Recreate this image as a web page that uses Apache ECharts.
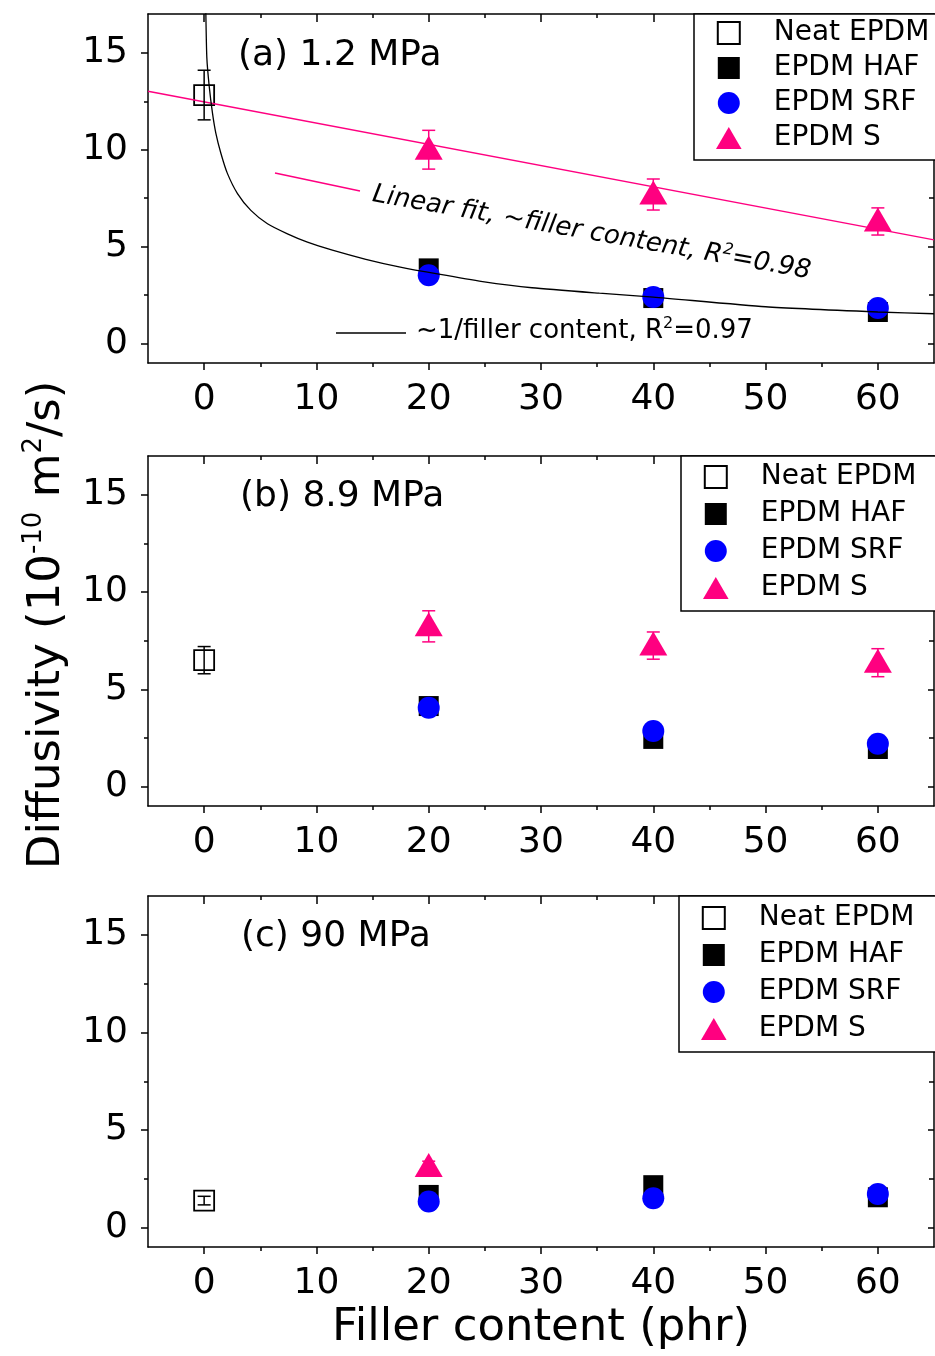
<!DOCTYPE html>
<html>
<head>
<meta charset="utf-8">
<title>Diffusivity vs filler content</title>
<script src="https://cdn.jsdelivr.net/npm/echarts@6.0.0/dist/echarts.min.js"></script>
<style>
  html, body { margin: 0; padding: 0; background: #fff; }
  #main { width: 935px; height: 1356px; }
</style>
</head>
<body>
<div id="main"></div>
<script>
// values, unit 10^-10 m2/s
const panelTitles = ['(a) 1.2 MPa', '(b) 8.9 MPa', '(c) 90 MPa']
const legendNames = ['Neat EPDM', 'EPDM HAF', 'EPDM SRF', 'EPDM S']
const fillerX = [20, 40, 60]
const neatX = [0]
const neatY = [12.82, 6.5, 1.38]
const neatErr = [1.28, 0.7, 0.22]
const hafY = [[3.88, 2.35, 1.63], [4.14, 2.45, 1.93], [1.67, 2.17, 1.55]]
const srfY = [[3.53, 2.4, 1.84], [4.05, 2.86, 2.2], [1.33, 1.5, 1.72]]
const sX = [[20, 40, 60], [20, 40, 60], [20]]
const sY = [[10.0, 7.69, 6.3], [8.24, 7.25, 6.37], [3.1]]
const sErr = [[1.0, 0.8, 0.7], [0.8, 0.7, 0.72], [0.3]]

// fits drawn in panel (a)
const linFitX = [-5, 65]
const linFitY = [13.02, 5.35]
const invFitX = [0.15, 0.24, 0.45, 0.74, 1.04, 1.49, 2.07, 2.97, 4.16, 5.64, 7.42, 9.2, 11.42, 14.4, 17.36, 20.9, 24.8, 29.2, 35.2, 40.0, 50.0, 60.0, 65.0]
const invFitY = [17.1, 14.75, 13.28, 11.9, 10.86, 9.82, 8.78, 7.74, 6.87, 6.18, 5.66, 5.23, 4.82, 4.35, 3.96, 3.58, 3.2, 2.88, 2.6, 2.4, 1.9, 1.63, 1.54]

const xTicks = [0, 10, 20, 30, 40, 50, 60]
const xMinor = [5, 15, 25, 35, 45, 55]
const yTicks = [0, 5, 10, 15]
const yMinor = [2.5, 7.5, 12.5]

const FONT = 'DejaVu Sans'
const PINK = '#ff0080'
const BLUE = '#0000ff'
const gridTops = [14, 456, 896]
const gridHeights = [349, 350, 351]
const legendLeft = [694, 681, 679]
const legendGap = [7, 9, 9]
const legendPad = [[5, 8], [7, 9], [8, 9]]
const legendIcons = ['path://M0,0H10V10H0Z', 'path://M0,0H10V10H0Z', 'circle', 'path://M5,0L10,8.6L0,8.6Z']

const axisLine = { onZero: false, lineStyle: { color: '#000', width: 1.5 } }
const tickStyle = { color: '#000', width: 1.5 }

const xAxesFor = (g) => {
  const base = { type: 'value', gridIndex: g, min: -5, max: 65, splitLine: { show: false } }
  return [
    { ...base, position: 'bottom', axisLine,
      axisTick: { customValues: xTicks, length: 7, lineStyle: tickStyle },
      axisLabel: { customValues: xTicks, fontFamily: FONT, fontSize: 36, color: '#000', margin: 19 } },
    { ...base, position: 'bottom', axisLine: { show: false, onZero: false },
      axisTick: { customValues: xMinor, length: 4, lineStyle: tickStyle }, axisLabel: { show: false } },
    { ...base, position: 'top', axisLine,
      axisTick: { inside: true, customValues: xTicks, length: 8, lineStyle: tickStyle }, axisLabel: { show: false } },
    { ...base, position: 'top', axisLine: { show: false, onZero: false },
      axisTick: { inside: true, customValues: xMinor, length: 4, lineStyle: tickStyle }, axisLabel: { show: false } },
  ]
}

const yAxesFor = (g) => {
  const base = { type: 'value', gridIndex: g, min: -1, max: 17, splitLine: { show: false } }
  return [
    { ...base, position: 'left', axisLine,
      axisTick: { customValues: yTicks, length: 7, lineStyle: tickStyle },
      axisLabel: { customValues: yTicks, fontFamily: FONT, fontSize: 36, color: '#000', margin: 20 } },
    { ...base, position: 'left', axisLine: { show: false, onZero: false },
      axisTick: { customValues: yMinor, length: 4, lineStyle: tickStyle }, axisLabel: { show: false } },
    { ...base, position: 'right', axisLine,
      axisTick: { inside: true, customValues: yTicks, length: 6, lineStyle: tickStyle }, axisLabel: { show: false } },
    { ...base, position: 'right', axisLine: { show: false, onZero: false },
      axisTick: { inside: true, customValues: yMinor, length: 5, lineStyle: tickStyle }, axisLabel: { show: false } },
  ]
}

const errorBar = (color) => (params, api) => {
  const x = api.value(0)
  const top = api.coord([x, api.value(2)])
  const bot = api.coord([x, api.value(1)])
  const hw = 6.5
  const style = { stroke: color, lineWidth: 1.5 }
  return {
    type: 'group',
    children: [
      { type: 'line', shape: { x1: top[0], y1: top[1], x2: bot[0], y2: bot[1] }, style },
      { type: 'line', shape: { x1: top[0] - hw, y1: top[1], x2: top[0] + hw, y2: top[1] }, style },
      { type: 'line', shape: { x1: bot[0] - hw, y1: bot[1], x2: bot[0] + hw, y2: bot[1] }, style },
    ]
  }
}

const grids = []
const xAxes = []
const yAxes = []
const series = []
const legends = []

panelTitles.forEach((t, g) => {
  grids.push({ left: 148, right: 1, top: gridTops[g], height: gridHeights[g] })
  xAxes.push(...xAxesFor(g))
  yAxes.push(...yAxesFor(g))
  const ax = { xAxisIndex: g * 4, yAxisIndex: g * 4 }
  const common = { ...ax, type: 'scatter', silent: true, emphasis: { disabled: true }, z: 2 }

  series.push({
    ...common, name: 'Neat EPDM', symbol: 'rect', symbolSize: 20,
    itemStyle: { color: 'rgba(255,255,255,0)', borderColor: '#000', borderWidth: 1.8, opacity: 1 },
    data: neatX.map(x => [x, neatY[g]])
  })
  series.push({
    ...common, name: 'EPDM HAF', symbol: 'rect', symbolSize: 20,
    itemStyle: { color: '#000', opacity: 1 },
    data: fillerX.map((x, i) => [x, hafY[g][i]])
  })
  series.push({
    ...common, name: 'EPDM SRF', symbol: 'circle', symbolSize: 22,
    itemStyle: { color: BLUE, opacity: 1 },
    data: fillerX.map((x, i) => [x, srfY[g][i]])
  })
  series.push({
    ...common, name: 'EPDM S', symbol: 'triangle', symbolSize: [28, 24], symbolOffset: [0, -2],
    itemStyle: { color: PINK, opacity: 1 },
    data: sX[g].map((x, i) => [x, sY[g][i]])
  })
  series.push({
    ...ax, type: 'custom', name: 'neat err', silent: true, z: 5,
    renderItem: errorBar('#000'), encode: { x: 0, y: [1, 2] },
    data: neatX.map(x => [x, neatY[g] - neatErr[g], neatY[g] + neatErr[g]])
  })
  series.push({
    ...ax, type: 'custom', name: 'S err', silent: true, z: 5,
    renderItem: errorBar(PINK), encode: { x: 0, y: [1, 2] },
    data: sX[g].map((x, i) => [x, sY[g][i] - sErr[g][i], sY[g][i] + sErr[g][i]])
  })

  legends.push({
    left: legendLeft[g], top: gridTops[g], orient: 'vertical', selectedMode: false,
    itemWidth: 28, itemHeight: 22, itemGap: legendGap[g],
    padding: [legendPad[g][0], 40, legendPad[g][1], 22],
    borderColor: '#000', borderWidth: 1.5, backgroundColor: '#fff',
    textStyle: { fontFamily: FONT, fontSize: 28, color: '#000', lineHeight: 28, padding: [0, 0, 0, 26] },
    data: legendNames.map((name, i) => ({ name, icon: legendIcons[i] }))
  })
})

series.push({
  xAxisIndex: 0, yAxisIndex: 0, type: 'line', name: 'Linear fit', silent: true, z: 3,
  showSymbol: false, lineStyle: { color: PINK, width: 1.5 },
  data: linFitX.map((x, i) => [x, linFitY[i]])
})
series.push({
  xAxisIndex: 0, yAxisIndex: 0, type: 'line', name: '1/filler fit', silent: true, z: 3,
  showSymbol: false, smooth: 0.2, lineStyle: { color: '#000', width: 1.3 },
  data: invFitX.map((x, i) => [x, invFitY[i]])
})

const titleX = [238, 240, 241]
const titleY = [56, 497, 937]
const graphic = panelTitles.map((t, g) => ({
  type: 'text', x: titleX[g], y: titleY[g], z: 10,
  style: { text: t, fill: '#000', fontFamily: FONT, fontSize: 36, textAlign: 'left', textVerticalAlign: 'middle' }
}))

graphic.push({
  type: 'text', x: 47, y: 625, rotation: Math.PI / 2, z: 10,
  style: {
    text: '{m|Diffusivity (10}{s|-10}{m| m}{s|2}{m|/s)}',
    textAlign: 'center', textVerticalAlign: 'middle', fill: '#000',
    rich: {
      m: { fontFamily: FONT, fontSize: 45, lineHeight: 52, fill: '#000' },
      s: { fontFamily: FONT, fontSize: 26, lineHeight: 26, verticalAlign: 'top', fill: '#000' }
    }
  }
})
graphic.push({
  type: 'text', x: 541, y: 1328, z: 10,
  style: { text: 'Filler content (phr)', fill: '#000', fontFamily: FONT, fontSize: 45, textAlign: 'center', textVerticalAlign: 'middle' }
})

// fit annotations in panel (a)
graphic.push({
  type: 'line', z: 10, shape: { x1: 275, y1: 173, x2: 360, y2: 191 },
  style: { stroke: PINK, lineWidth: 1.5 }
})
graphic.push({
  type: 'text', x: 370, y: 209, rotation: -0.175, z: 10,
  style: {
    text: '{i|Linear fit, ~filler content, R}{is|2}{i|=0.98}',
    textAlign: 'left', textVerticalAlign: 'bottom', fill: '#000',
    rich: {
      i: { fontFamily: FONT, fontSize: 26, fontStyle: 'italic', lineHeight: 30, fill: '#000' },
      is: { fontFamily: FONT, fontSize: 16, fontStyle: 'italic', lineHeight: 16, verticalAlign: 'top', fill: '#000' }
    }
  }
})
graphic.push({
  type: 'line', z: 10, shape: { x1: 336, y1: 333, x2: 406, y2: 333 },
  style: { stroke: '#000', lineWidth: 1.5 }
})
graphic.push({
  type: 'text', x: 416, y: 331, z: 10,
  style: {
    text: '{n|~1/filler content, R}{ns|2}{n|=0.97}',
    textAlign: 'left', textVerticalAlign: 'middle', fill: '#000',
    rich: {
      n: { fontFamily: FONT, fontSize: 26, lineHeight: 30, fill: '#000' },
      ns: { fontFamily: FONT, fontSize: 16, lineHeight: 16, verticalAlign: 'top', fill: '#000' }
    }
  }
})

const myChart = echarts.init(document.getElementById('main'))
myChart.setOption({
  animation: false,
  backgroundColor: '#fff',
  grid: grids,
  xAxis: xAxes,
  yAxis: yAxes,
  legend: legends,
  series,
  graphic
})
</script>
</body>
</html>
